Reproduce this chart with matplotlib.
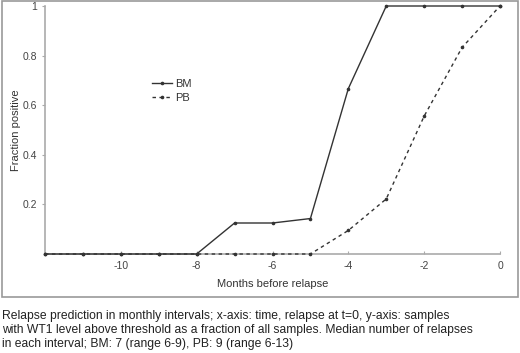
import matplotlib
matplotlib.use("Agg")
import matplotlib.pyplot as plt
from matplotlib.patches import Rectangle

plt.rcParams['font.family'] = ['Liberation Sans', 'DejaVu Sans']
plt.rcParams['axes.unicode_minus'] = False

months = [-12, -11, -10, -9, -8, -7, -6, -5, -4, -3, -2, -1, 0]
bm = [0, 0, 0, 0, 0, 0.125, 0.125, 0.143, 0.667, 1, 1, 1, 1]
pb = [0, 0, 0, 0, 0, 0, 0, 0, 0.095, 0.222, 0.556, 0.833, 1]
xticks = [-10, -8, -6, -4, -2, 0]
yticks = [0.2, 0.4, 0.6, 0.8, 1]
ytick_labels = ["0.2", "0.4", "0.6", "0.8", "1"]
caption = ("Relapse prediction in monthly intervals; x-axis: time, relapse at t=0, y-axis: samples\n"
           "with WT1 level above threshold as a fraction of all samples. Median number of relapses\n"
           "in each interval; BM: 7 (range 6-9), PB: 9 (range 6-13)")

W, H = 520, 353
fig = plt.figure(figsize=(W / 100, H / 100), dpi=100)
ax = fig.add_axes([45 / W, (H - 254) / H, 455 / W, 248 / H])

ax.plot(months, bm, color='#333333', lw=1.0, ls='-', marker='o', ms=1.6, label='BM',
        clip_on=False, zorder=5)
ax.plot(months, pb, color='#333333', lw=1.0, ls=(0, (2.5, 2.5)), marker='o', ms=1.6, label='PB',
        clip_on=False, zorder=4)

ax.set_xlim(-12, 0)
ax.set_ylim(0, 1)
ax.set_xticks(xticks)
ax.set_xticks(months, minor=True)
ax.set_yticks(yticks)
ax.set_yticklabels(ytick_labels)
for s in ['top', 'right']:
    ax.spines[s].set_visible(False)
for s in ['left', 'bottom']:
    ax.spines[s].set_color('#aaaaaa')
    ax.spines[s].set_linewidth(1.2)
ax.tick_params(axis='x', direction='in', length=2.5, color='#aaaaaa', labelsize=7.5, labelcolor='#444444', pad=5)
ax.tick_params(axis='x', which='minor', length=0)
ax.tick_params(axis='y', direction='out', length=2, color='#aaaaaa', labelsize=7.5, labelcolor='#444444', pad=4)
ax.set_xlabel('Months before relapse', fontsize=8, color='#333333', labelpad=6)
ax.set_ylabel('Fraction positive', fontsize=8, color='#333333')
ax.yaxis.set_label_coords(-24 / 455, 0.5)

ax.legend(loc='upper left', bbox_to_anchor=(97 / 455, 1 - 63 / 248), frameon=False,
          fontsize=8, handlelength=1.8, handletextpad=0.3, labelspacing=0.35,
          labelcolor='#333333')

fig.patches.append(Rectangle((1.5 / W, (H - 296.7) / H), 516 / W, (296.7 - 1) / H,
                             transform=fig.transFigure, fill=False, ec='#999999', lw=1.2))

fig.text(2 / W, (H - 309.5) / H, caption, fontsize=8.7, color='#222222', va='top', ha='left',
         linespacing=1.25)

fig.savefig('out.png', dpi=100)
